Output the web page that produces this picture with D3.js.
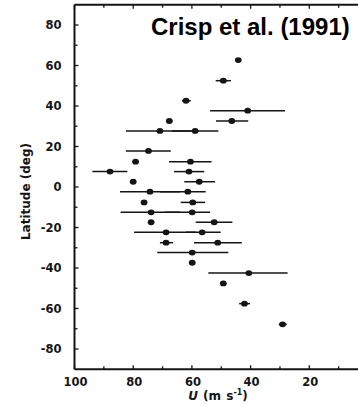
<!DOCTYPE html>
<html><head><meta charset="utf-8">
<script src="https://cdn.jsdelivr.net/npm/d3@7"></script>
<style>
html,body{margin:0;padding:0;background:#fff;}
text{font-family:"DejaVu Sans",sans-serif;font-weight:bold;fill:#151515;}
</style></head>
<body>
<svg id="chart" width="358" height="407"></svg>
<script>
// Data: zonal wind speed U (m/s), latitude (deg), error-bar extent (U low/high)
const windU   = [44.2, 49.3, 62.0, 41.0, 46.4, 67.7, 70.9, 58.9, 74.8, 79.2, 60.5, 87.9, 61.0, 80.0, 57.5, 74.3, 61.4, 76.3, 59.7, 73.9, 59.9, 73.9, 52.4, 68.8, 56.5, 68.8, 51.2, 59.9, 59.9, 40.6, 49.3, 42.1, 29.1];
const latitude= [62.7, 52.5, 42.6, 37.7, 32.6, 32.6, 27.7, 27.7, 17.8, 12.5, 12.5, 7.6, 7.6, 2.6, 2.6, -2.3, -2.3, -7.6, -7.6, -12.5, -12.5, -17.4, -17.4, -22.4, -22.4, -27.5, -27.5, -32.4, -37.4, -42.5, -47.6, -57.6, -67.8];
const errHigh = [44.2, 51.9, 63.4, 53.8, 51.8, 68.7, 82.5, 66.8, 82.5, 80.2, 67.8, 93.9, 66.1, 81.0, 62.6, 84.5, 70.9, 77.3, 63.8, 84.3, 69.2, 74.9, 58.7, 79.7, 62.0, 70.9, 59.3, 71.8, 60.9, 54.4, 49.3, 43.9, 30.4];
const errLow  = [44.2, 46.7, 60.4, 28.3, 40.8, 66.6, 59.3, 51.0, 67.2, 78.2, 53.3, 82.0, 55.8, 79.0, 52.1, 64.0, 55.3, 75.3, 55.5, 64.0, 53.8, 72.9, 46.2, 58.6, 50.2, 66.4, 43.0, 47.6, 58.9, 27.4, 49.3, 40.2, 27.7];

const xTickLabels = [100, 80, 60, 40, 20];
const yTickLabels = [80, 60, 40, 20, 0, -20, -40, -60, -80];
const titleText = "Crisp et al. (1991)";

const svg = d3.select("#chart");
const pLeft = 74.5, pTop = 4.75, pBottom = 369.25;
const x = d3.scaleLinear().domain([100, 0]).range([pLeft, pLeft + 293.5]);
const y = d3.scaleLinear().domain([-90, 90]).range([pBottom, pTop]);

const ink = "#151515";

// frame lines
svg.append("line").attr("x1", pLeft).attr("x2", 358).attr("y1", pTop).attr("y2", pTop)
  .attr("stroke", ink).attr("stroke-width", 1.8);
svg.append("line").attr("x1", pLeft).attr("x2", 358).attr("y1", pBottom).attr("y2", pBottom)
  .attr("stroke", ink).attr("stroke-width", 2);
svg.append("line").attr("x1", pLeft).attr("x2", pLeft).attr("y1", pTop).attr("y2", pBottom)
  .attr("stroke", ink).attr("stroke-width", 2);

// bottom/top ticks (inward)
const xTicks = d3.range(100, 0, -10);
svg.selectAll(".xt").data(xTicks).join("line")
  .attr("x1", d => x(d)).attr("x2", d => x(d))
  .attr("y1", pBottom).attr("y2", d => pBottom - (d % 20 === 0 ? 4 : 3))
  .attr("stroke", ink).attr("stroke-width", 1.3);
svg.selectAll(".xtt").data(xTicks).join("line")
  .attr("x1", d => x(d)).attr("x2", d => x(d))
  .attr("y1", pTop).attr("y2", d => pTop + (d % 20 === 0 ? 4 : 3))
  .attr("stroke", ink).attr("stroke-width", 1.3);

// y ticks (inward)
const yTicks = d3.range(-80, 81, 10);
svg.selectAll(".yt").data(yTicks).join("line")
  .attr("y1", d => y(d)).attr("y2", d => y(d))
  .attr("x1", pLeft).attr("x2", d => pLeft + (d % 20 === 0 ? 4 : 3))
  .attr("stroke", ink).attr("stroke-width", 1.3);

// tick labels
svg.selectAll(".xl").data(xTickLabels).join("text")
  .attr("x", d => x(d) + 1).attr("y", 385.5)
  .attr("text-anchor", "middle").attr("font-size", 11.5)
  .text(d => d);
svg.selectAll(".yl").data(yTickLabels).join("text")
  .attr("x", 61.5).attr("y", d => y(d) + 4.2)
  .attr("text-anchor", "end").attr("font-size", 11.5)
  .text(d => d);

// axis titles
svg.append("text")
  .attr("transform", "translate(29.5,191.5) rotate(-90)")
  .attr("text-anchor", "middle").attr("font-size", 12)
  .text("Latitude (deg)");

const xl = svg.append("text").attr("x", 218).attr("y", 399.5)
  .attr("text-anchor", "middle").attr("font-size", 12).attr("word-spacing", 1);
xl.append("tspan").attr("font-style", "italic").text("U");
xl.append("tspan").text(" (m s");
xl.append("tspan").attr("font-size", 8).attr("dy", -4.5).text("-1");
xl.append("tspan").attr("dy", 4.5).text(")");

// title
svg.append("text").attr("x", 151).attr("y", 34.5)
  .style("font-family", "'Liberation Sans', Arial, sans-serif")
  .attr("font-size", 24).style("fill", "#000")
  .text(titleText);

// error bars
const idx = d3.range(windU.length);
svg.selectAll(".eb").data(idx).join("line")
  .attr("x1", i => x(errHigh[i])).attr("x2", i => x(errLow[i]))
  .attr("y1", i => y(latitude[i])).attr("y2", i => y(latitude[i]))
  .attr("stroke", ink).attr("stroke-width", 1.5);

// points
svg.selectAll(".pt").data(idx).join("ellipse")
  .attr("cx", i => x(windU[i])).attr("cy", i => y(latitude[i]))
  .attr("rx", 3.4).attr("ry", 2.9)
  .attr("fill", ink);
</script>
</body></html>
